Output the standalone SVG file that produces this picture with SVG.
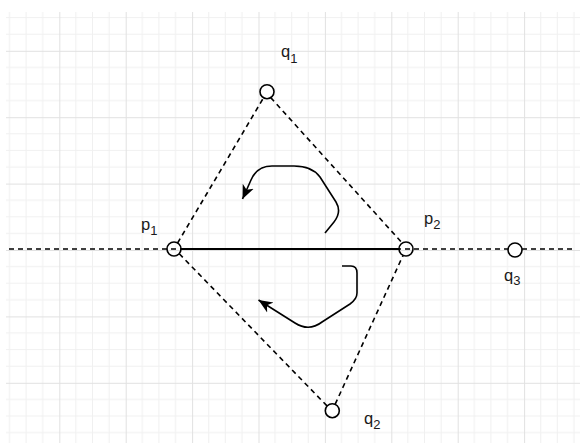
<svg xmlns="http://www.w3.org/2000/svg" width="580" height="443" viewBox="0 0 580 443">
<style>
.node{fill:none;stroke:#000;stroke-width:1.6}
.dash{fill:none;stroke:#000;stroke-width:1.6;stroke-dasharray:5 4}
.solid{fill:none;stroke:#000;stroke-width:2.2}
.curve{fill:none;stroke:#000;stroke-width:1.6;stroke-linejoin:round}
.lbl{font-family:"Liberation Sans",Arial,sans-serif;font-size:16.5px;fill:#1a1a1a}
.sub{font-size:13px}
</style>
<defs>
<pattern id="grid" patternUnits="userSpaceOnUse" x="-7.1" y="-15.6" width="66.4" height="66.4">
<rect x="16.1" y="0" width="1" height="66.4" fill="#f0f0f0"/>
<rect x="32.7" y="0" width="1" height="66.4" fill="#f0f0f0"/>
<rect x="49.3" y="0" width="1" height="66.4" fill="#f0f0f0"/>
<rect x="0" y="16.1" width="66.4" height="1" fill="#f0f0f0"/>
<rect x="0" y="32.7" width="66.4" height="1" fill="#f0f0f0"/>
<rect x="0" y="49.3" width="66.4" height="1" fill="#f0f0f0"/>
<rect x="0" y="0" width="1" height="66.4" fill="#e1e1e1"/>
<rect x="0" y="0" width="66.4" height="1" fill="#e1e1e1"/>
</pattern>
<marker id="arr" markerUnits="userSpaceOnUse" markerWidth="16" markerHeight="14" viewBox="0 0 16 14" refX="14" refY="7" orient="auto">
<path d="M0,1 L14,7 L0,13 L4,7 z" fill="#000"/>
</marker>
</defs>
<rect x="6" y="12" width="574" height="431" fill="#fff"/>
<rect x="6" y="12" width="574" height="431" fill="url(#grid)"/>
<g id="connectors">
<line class="dash" x1="9" y1="249" x2="573" y2="249"/>
<line class="solid" x1="181" y1="249" x2="399" y2="249"/>
<line class="dash" x1="177.6" y1="243" x2="263.4" y2="98"/>
<line class="dash" x1="270.7" y1="97.6" x2="402.2" y2="243"/>
<line class="dash" x1="179.3" y1="253.8" x2="327" y2="405.9"/>
<line class="dash" x1="335.2" y1="404.2" x2="403" y2="255.5"/>
<path class="curve" d="M325,233 L334,222 Q342,212 336,202 L320,177 Q312,166 294,166 L272,166 Q257,166 251,180 L242.5,199" marker-end="url(#arr)"/>
<path class="curve" d="M342,266 L351,266 Q357,266 357,273 L357,293 Q357,299 350,304 L322,322 Q309,332 295,323 L258.5,300" marker-end="url(#arr)"/>
</g>
<g id="p1"><circle class="node" cx="174" cy="249" r="7"/><text class="lbl" x="141" y="230">p<tspan class="sub" dy="4.5">1</tspan></text></g>
<g id="p2"><circle class="node" cx="406" cy="249" r="7"/><text class="lbl" x="424" y="224">p<tspan class="sub" dy="4.5">2</tspan></text></g>
<g id="q1"><circle class="node" cx="267" cy="91.7" r="7"/><text class="lbl" x="281" y="56.7">q<tspan class="sub" dy="6">1</tspan></text></g>
<g id="q2"><circle class="node" cx="332.3" cy="410.7" r="7"/><text class="lbl" x="364" y="424">q<tspan class="sub" dy="5">2</tspan></text></g>
<g id="q3"><circle class="node" cx="515" cy="250" r="7" fill="#fff" style="fill:#fff"/><text class="lbl" x="504" y="280.5">q<tspan class="sub" dy="4.5">3</tspan></text></g>
</svg>
